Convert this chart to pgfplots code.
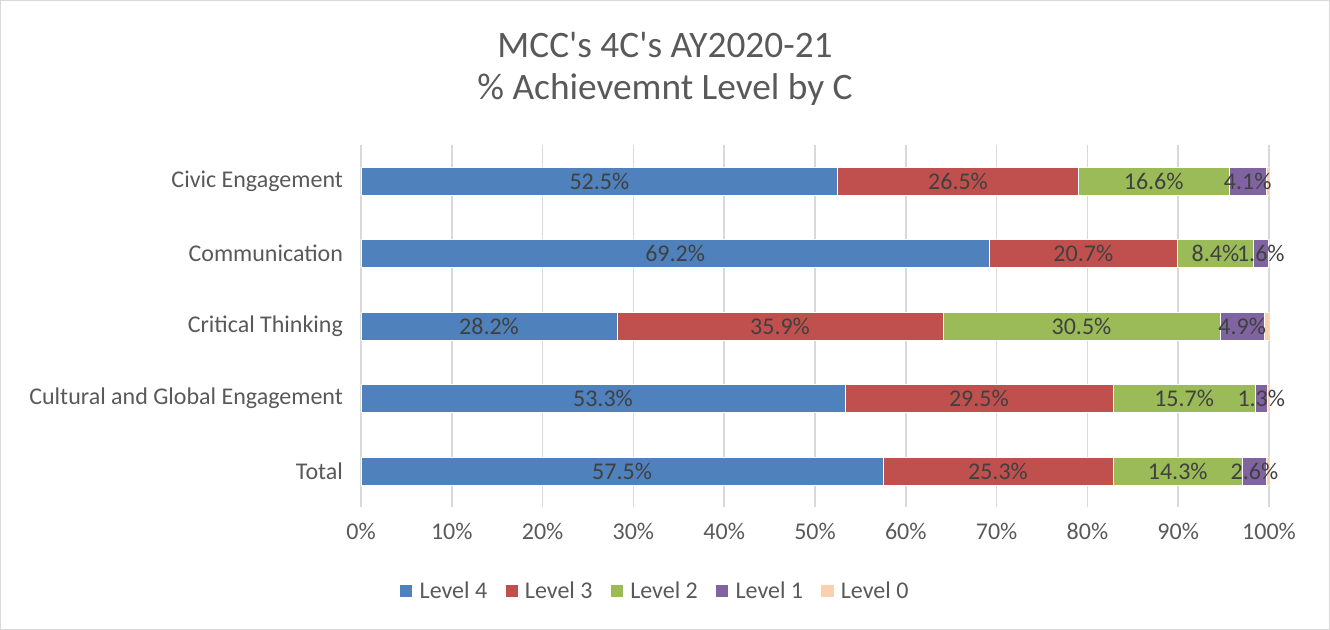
\documentclass[border=0pt]{standalone}
\usepackage{pgfplots}
\pgfplotsset{compat=1.18}
\usepackage{pgfplotstable}
\usepackage{fontspec}
\setmainfont{Carlito}
\definecolor{cLf}{HTML}{4F81BD}
\definecolor{cLt}{HTML}{C0504D}
\definecolor{cLw}{HTML}{9BBB59}
\definecolor{cLo}{HTML}{8064A2}
\definecolor{cLz}{HTML}{FBD0AE}
\definecolor{gridc}{HTML}{D9D9D9}
\definecolor{txt}{HTML}{595959}
\definecolor{lbl}{HTML}{404040}
\pgfplotstableread{
y L4 L3 L2 L1 L0
0 52.5 26.5 16.6 4.1 0.3
1 69.2 20.7 8.4 1.6 0.1
2 28.2 35.9 30.5 4.9 0.5
3 53.3 29.5 15.7 1.3 0.2
4 57.5 25.3 14.3 2.6 0.3
}\data
\begin{document}
\begin{tikzpicture}[x=1pt,y=1pt]
\useasboundingbox (0,0) rectangle (997.5,-472.5);
\draw[gridc, line width=0.75pt] (0.5,-0.5) rectangle (997,-472);
\node[font=\fontsize{28}{32}\selectfont, text=txt] at (498.75,-33.75) {MCC\textquotesingle s 4C\textquotesingle s AY2020-21};
\node[font=\fontsize{28}{32}\selectfont, text=txt] at (498.75,-67.5) {\% Achievemnt Level by C};
\begin{axis}[
  at={(270.75pt,-380.4375pt)}, anchor=south west,
  scale only axis, width=681pt, height=271.875pt,
  xbar stacked, bar width=21pt,
  xmin=0, xmax=100, ymin=-0.5, ymax=4.5, y dir=reverse,
  xtick={0,10,...,100},
  xticklabel={\pgfmathprintnumber{\tick}\%},
  /pgf/number format/assume math mode=true,
  ytick={0,1,2,3,4},
  yticklabels={Civic Engagement, Communication, Critical Thinking, Cultural and Global Engagement, Total},
  tick label style={font=\fontsize{18}{20}\selectfont, text=txt},
  xticklabel style={yshift=-8pt},
  yticklabel style={xshift=-10pt},
  major tick length=0pt,
  axis line style={draw=none},
  xmajorgrids, major grid style={gridc, line width=1.1pt},
  legend columns=5,
  legend style={at={(0.324,-0.231)}, anchor=center, draw=none, fill=none,
    font=\fontsize{18}{20}\selectfont, text=txt,
    /tikz/every odd column/.append style={column sep=3pt},
    /tikz/every even column/.append style={column sep=11pt}},
  legend image code/.code={\fill[#1] (0pt,-4.9pt) rectangle (9.8pt,4.9pt);},
  lab/.style={
    nodes near coords={\pgfplotspointmeta\%},
    point meta=explicit symbolic,
    every node near coord/.append style={anchor=center,
      font=\fontsize{18}{20}\selectfont, text=lbl},
  },
]
\addplot[fill=cLf, draw=white, line width=0.5pt, lab] table[x=L4, y=y, meta=L4] {\data};
\addplot[fill=cLt, draw=white, line width=0.5pt, lab] table[x=L3, y=y, meta=L3] {\data};
\addplot[fill=cLw, draw=white, line width=0.5pt, lab] table[x=L2, y=y, meta=L2] {\data};
\addplot[fill=cLo, draw=white, line width=0.5pt, lab] table[x=L1, y=y, meta=L1] {\data};
\addplot[fill=cLz, draw=white, line width=0.5pt] table[x=L0, y=y] {\data};
\legend{Level 4, Level 3, Level 2, Level 1, Level 0}
\end{axis}
\end{tikzpicture}
\end{document}
